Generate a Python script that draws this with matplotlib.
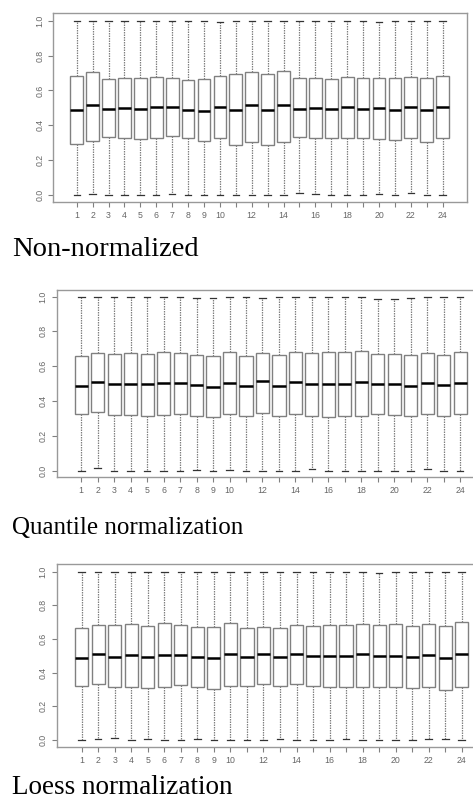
import matplotlib
matplotlib.use("Agg")
import matplotlib.pyplot as plt

# ---------------- data ----------------
samples = list(range(1, 25))
xtick_labels = [str(i) if (i <= 10 or i % 2 == 0) else "" for i in samples]
ytick_values = [0.0, 0.2, 0.4, 0.6, 0.8, 1.0]
ytick_labels = ["0.0", "0.2", "0.4", "0.6", "0.8", "1.0"]
captions = ["Non-normalized", "Quantile normalization", "Loess normalization"]

# Non-normalized
raw_q1 = [0.294, 0.309, 0.332, 0.330, 0.321, 0.328, 0.340, 0.325, 0.309, 0.328, 0.286, 0.304,
          0.286, 0.304, 0.332, 0.325, 0.326, 0.330, 0.330, 0.323, 0.317, 0.326, 0.307, 0.328]
raw_med = [0.489, 0.514, 0.496, 0.502, 0.496, 0.506, 0.506, 0.491, 0.481, 0.508, 0.489, 0.515,
           0.489, 0.514, 0.496, 0.498, 0.496, 0.508, 0.496, 0.498, 0.489, 0.504, 0.489, 0.508]
raw_q3 = [0.683, 0.708, 0.666, 0.672, 0.670, 0.678, 0.670, 0.661, 0.664, 0.685, 0.693, 0.706,
          0.693, 0.712, 0.670, 0.672, 0.668, 0.676, 0.674, 0.674, 0.672, 0.680, 0.672, 0.685]
raw_lo = [0.0, 0.006, 0.0, 0.0, 0.0, 0.0, 0.008, 0.0, 0.0, 0.0, 0.0, 0.0,
          0.0, 0.0, 0.013, 0.006, 0.0, 0.0, 0.0, 0.006, 0.0, 0.013, 0.0, 0.0]
raw_hi = [1.0, 1.0, 1.0, 1.0, 1.0, 1.0, 1.0, 1.0, 0.997, 0.993, 1.0, 1.0,
          1.0, 1.0, 1.0, 0.997, 1.0, 1.0, 1.0, 0.991, 1.0, 1.0, 1.0, 1.0]

# Quantile normalization
qn_q1 = [0.324, 0.335, 0.320, 0.320, 0.312, 0.320, 0.328, 0.316, 0.308, 0.328, 0.316, 0.330,
         0.314, 0.328, 0.316, 0.310, 0.312, 0.312, 0.324, 0.322, 0.316, 0.326, 0.312, 0.328]
qn_med = [0.489, 0.511, 0.496, 0.500, 0.496, 0.504, 0.504, 0.490, 0.483, 0.506, 0.489, 0.513,
          0.489, 0.510, 0.496, 0.498, 0.498, 0.510, 0.498, 0.500, 0.489, 0.504, 0.490, 0.506]
qn_q3 = [0.659, 0.678, 0.669, 0.674, 0.672, 0.680, 0.674, 0.665, 0.659, 0.684, 0.661, 0.674,
         0.663, 0.680, 0.676, 0.680, 0.680, 0.688, 0.670, 0.672, 0.667, 0.678, 0.663, 0.684]
qn_lo = [0.0, 0.013, 0.0, 0.0, 0.0, 0.0, 0.0, 0.004, 0.0, 0.006, 0.0, 0.0,
         0.0, 0.0, 0.010, 0.0, 0.0, 0.0, 0.0, 0.0, 0.0, 0.011, 0.0, 0.0]
qn_hi = [1.0, 1.0, 1.0, 1.0, 1.0, 1.0, 1.0, 0.994, 0.990, 1.0, 1.0, 0.994,
         1.0, 1.0, 1.0, 1.0, 1.0, 1.0, 0.989, 0.985, 0.994, 1.0, 1.0, 1.0]

# Loess normalization
lo_q1 = [0.321, 0.333, 0.317, 0.317, 0.307, 0.317, 0.327, 0.315, 0.305, 0.323, 0.319, 0.335,
         0.319, 0.333, 0.319, 0.317, 0.317, 0.317, 0.317, 0.313, 0.309, 0.317, 0.299, 0.317]
lo_med = [0.489, 0.513, 0.495, 0.503, 0.495, 0.505, 0.505, 0.491, 0.485, 0.509, 0.491, 0.513,
          0.491, 0.513, 0.497, 0.501, 0.497, 0.511, 0.499, 0.501, 0.491, 0.507, 0.489, 0.509]
lo_q3 = [0.665, 0.683, 0.681, 0.689, 0.679, 0.693, 0.683, 0.671, 0.669, 0.697, 0.663, 0.673,
         0.663, 0.681, 0.677, 0.683, 0.683, 0.691, 0.683, 0.687, 0.677, 0.691, 0.677, 0.699]
lo_lo = [0.0, 0.004, 0.010, 0.0, 0.004, 0.0, 0.0, 0.008, 0.0, 0.0, 0.0, 0.0,
         0.006, 0.0, 0.0, 0.0, 0.006, 0.0, 0.0, 0.0, 0.0, 0.006, 0.006, 0.0]
lo_hi = [1.0, 1.0, 1.0, 1.0, 1.0, 1.0, 1.0, 1.0, 1.0, 1.0, 1.0, 1.0,
         0.996, 1.0, 1.0, 1.0, 1.0, 1.0, 0.994, 0.996, 1.0, 1.0, 1.0, 1.0]

panels = [
    (raw_lo, raw_q1, raw_med, raw_q3, raw_hi),
    (qn_lo, qn_q1, qn_med, qn_q3, qn_hi),
    (lo_lo, lo_q1, lo_med, lo_q3, lo_hi),
]

# ---------------- layout (pixels of a 473x801 canvas) ----------------
W, H = 473, 801
# (left, right, top, bottom) frame in pixels
frames = [(53.3, 467.3, 13.3, 201.7),
          (56.7, 485.7, 290.0, 477.3),
          (56.7, 487.4, 564.3, 746.7)]
xlims = [(-0.47, 25.55), (-0.49, 25.55), (-0.51, 25.55)]
ylims = [(-0.037, 1.042), (-0.038, 1.038), (-0.040, 1.044)]
cap_pos = [(12, 256.0, 20.5), (12, 533.5, 18.0), (12, 794.0, 19.5)]

GRAY = "#808080"
fig = plt.figure(figsize=(W / 100, H / 100), dpi=100)
fig.patch.set_facecolor("white")

for k, (lo, q1, med, q3, hi) in enumerate(panels):
    l, r, t, b = frames[k]
    ax = fig.add_axes([l / W, 1 - b / H, (r - l) / W, (b - t) / H])
    stats = [dict(whislo=lo[i], q1=q1[i], med=med[i], q3=q3[i], whishi=hi[i], fliers=[])
             for i in range(len(samples))]
    ax.bxp(stats, positions=samples, widths=0.8, showfliers=False, patch_artist=True,
           boxprops=dict(facecolor="white", edgecolor=GRAY, linewidth=1.0),
           medianprops=dict(color="black", linewidth=1.8, solid_capstyle="butt"),
           whiskerprops=dict(color=GRAY, linewidth=0.9, linestyle=(0, (1.2, 0.8))),
           capprops=dict(color="#333333", linewidth=0.9),
           capwidths=0.4)
    ax.set_xlim(*xlims[k])
    ax.set_ylim(*ylims[k])
    ax.set_xticks(samples)
    ax.set_xticklabels(xtick_labels, fontsize=6.3, color="#666666", family="Liberation Sans")
    ax.set_yticks(ytick_values)
    ax.set_yticklabels(ytick_labels, fontsize=6.3, color="#666666", family="Liberation Sans",
                       rotation=90, va="center")
    ax.tick_params(axis="both", direction="out", length=3.5, width=0.8, color=GRAY, pad=3)
    for s in ax.spines.values():
        s.set_color("#999999")
        s.set_linewidth(1.0)
    cx, cy, fs = cap_pos[k]
    fig.text(cx / W, 1 - cy / H, captions[k], fontsize=fs, family="Liberation Serif",
             ha="left", va="baseline", color="black")

fig.savefig("out.png", dpi=100, facecolor="white")
